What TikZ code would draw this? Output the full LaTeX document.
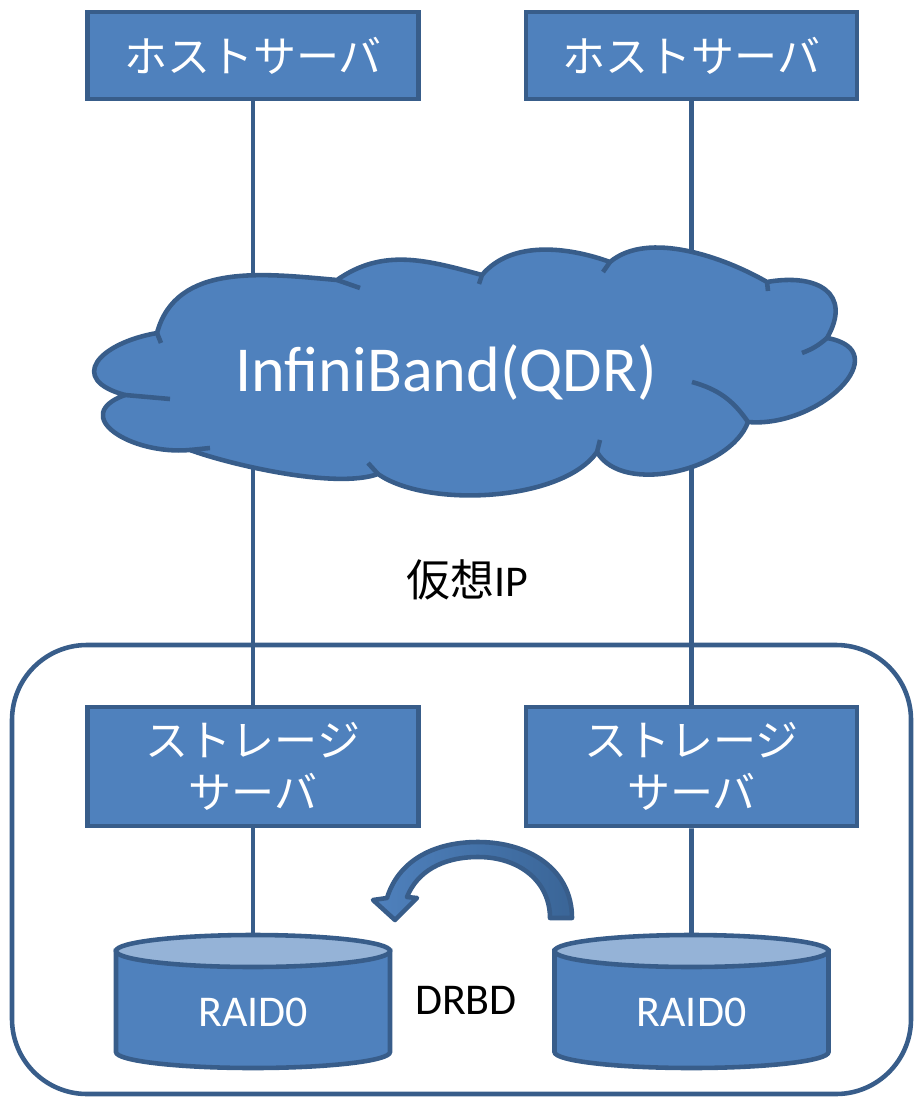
\documentclass[tikz,border=0pt]{standalone}
\usepackage{fontspec}
\setmainfont{Carlito}
\newfontfamily\jp{Noto Sans CJK JP}
\usepackage{tikz}
\usetikzlibrary{positioning}
\definecolor{boxfill}{HTML}{4F81BD}
\definecolor{boxline}{HTML}{385D8A}
\definecolor{disktop}{HTML}{95B3D7}
\definecolor{curl}{HTML}{3A6597}
\tikzset{
  server/.style={draw=boxline, fill=boxfill, line width=2.6pt, text=white,
    minimum width=6.62cm, align=center, font=\jp\fontsize{24.5}{30}\selectfont},
  link/.style={draw=boxline, line width=2.6pt},
  cloudline/.style={draw=boxline, line width=2.6pt, line join=round},
  disk/.style={draw=boxline, fill=boxfill, line width=2.6pt},
  disklid/.style={draw=boxline, fill=disktop, line width=2.6pt},
  group/.style={draw=boxline, line width=2.6pt, rounded corners=1.5cm},
  lab/.style={text=white, font=\fontsize{25}{30}\selectfont},
  labb/.style={text=black, font=\fontsize{25}{30}\selectfont},
}
\begin{document}
\begin{tikzpicture}[x=0.02cm, y=-0.02cm]
  \useasboundingbox (0,0) rectangle (913,1097);
  % redundancy group
  \draw[group] (12,645) rectangle (911,1094);
  % servers
  \node[server, minimum height=1.74cm] (host1) at (253,55.5) {ホストサーバ};
  \node[server, minimum height=1.74cm, right=2.06cm of host1] (host2) {ホストサーバ};
  \node[server, minimum height=2.38cm] (stor1) at (253,766.5) {ストレージ\\サーバ};
  \node[server, minimum height=2.38cm, right=2.06cm of stor1] (stor2) {ストレージ\\サーバ};
  \draw[link] (host1) -- (stor1);
  \draw[link] (host2) -- (stor2);
  % cloud
  \path[cloudline, fill=boxfill] (157,333) to[out=75, in=175] (337,280)
    to[out=35, in=165] (482,275) to[out=50, in=160, looseness=0.9] (610,262)
    to[out=40, in=150, looseness=0.8] (767,282)
    to[out=10, in=60, looseness=1.6] (827,338)
    to[out=-10, in=-5, looseness=1.6] (748,422)
    to[out=250, in=300, looseness=0.85] (597,452)
    to[out=235, in=325, looseness=0.7] (378,474)
    to[out=200, in=340, looseness=0.6] (190,450)
    to[out=185, in=200, looseness=1.8] (125,395)
    to[out=165, in=190, looseness=2.2] cycle;
  \draw[cloudline] (157,333) -- (161,343);
  \draw[cloudline] (337,280) -- (360,288);
  \draw[cloudline] (482,275) -- (479,284);
  \draw[cloudline] (610,262) -- (603,272);
  \draw[cloudline] (767,282) -- (768,291);
  \draw[cloudline] (827,338) to[bend left=10] (802,353);
  \draw[cloudline] (748,422) to[bend right=20] (692,382);
  \draw[cloudline] (597,452) -- (600,440);
  \draw[cloudline] (378,474) -- (368,463);
  \draw[cloudline] (190,450) -- (210,448);
  \draw[cloudline] (125,395) -- (170,399);
  \node[lab, font=\fontsize{36.5}{40}\selectfont] (ib) at (446,372) {InfiniBand(QDR)};
  \node[labb] (vip) at (467,580) {{\jp 仮想}IP};
  % disks
  \foreach \x/\n in {253/1,691.5/2} {
    \filldraw[disk] (\x-137,951) -- (\x-137,1052)
      arc[start angle=180, end angle=0, x radius=137, y radius=16]
      -- (\x+137,951) -- cycle;
    \filldraw[disklid] (\x,951) ellipse [x radius=137, y radius=16];
    \node[lab] (raid\n) at (\x,1012) {RAID0};
    \coordinate (top\n) at (\x,935);
  }
  \draw[link] (stor1) -- (top1);
  \draw[link] (stor2) -- (top2);
  % replication arrow
  \path[draw=boxline, line width=2.6pt, line join=round, left color=boxfill, right color=curl]
    (572,918) .. controls (572,870) and (530,842) .. (478,842)
    .. controls (432,842) and (398,862) .. (387,898)
    -- (373,900) -- (395,920) -- (417,898) -- (407,897)
    .. controls (417,872) and (442,857) .. (478,857)
    .. controls (520,857) and (550,882) .. (550,918) -- cycle;
  \node[labb] (drbd) at (466,1000) {DRBD};
\end{tikzpicture}
\end{document}
